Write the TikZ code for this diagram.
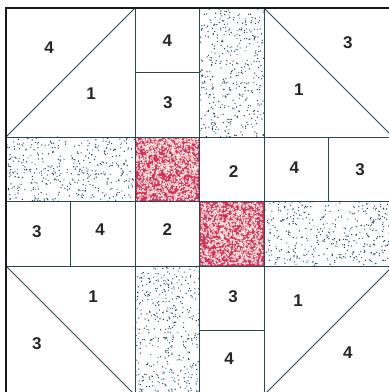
\documentclass[tikz,border=0pt]{standalone}
\usepackage{fontspec}
\setmainfont{Liberation Sans}
\usepackage{tikz}
\usetikzlibrary{positioning}

\definecolor{seam}{RGB}{40,72,78}
\definecolor{speck}{RGB}{30,62,70}
\definecolor{speckgreen}{RGB}{70,130,130}
\definecolor{patchred}{RGB}{218,48,92}
\definecolor{patchcream}{RGB}{250,232,220}

\begin{document}
\begin{tikzpicture}[
  x=64.5pt, y=-64.5pt,
  seamline/.style={draw=seam, line width=0.9pt},
  border/.style={draw=black!90, line width=2.2pt},
  num/.style={font=\bfseries\fontsize{17}{17}\selectfont, text=black!85, inner sep=0pt},
  dot/.style={fill=#1},
]
  \useasboundingbox (-0.093,-0.124) rectangle (5.922,5.953);
  \pgfmathsetseed{4217}

  % speckled strips
  \foreach \xa/\ya/\w/\h in {3/0/1/2, 0/2/2/1, 4/3/2/1, 2/4/1/2} {
    \foreach \k in {1,...,300}
      \fill[dot=speck] ({\xa+\w*rnd},{\ya+\h*rnd}) circle (0.7pt);
    \foreach \k in {1,...,120}
      \fill[dot=speckgreen] ({\xa+\w*rnd},{\ya+\h*rnd}) circle (0.7pt);
  }

  % red patches
  \foreach \xa/\ya in {2/2, 3/3} {
    \fill[patchred] (\xa,\ya) rectangle ++(1,1);
    \foreach \k in {1,...,1300}
      \fill[dot=patchcream] ({\xa+0.02+0.96*rnd},{\ya+0.02+0.96*rnd}) circle (0.95pt);
  }

  % seams
  \draw[seamline] (0,2) -- (6,2);
  \draw[seamline] (0,3) -- (6,3);
  \draw[seamline] (0,4) -- (6,4);
  \draw[seamline] (2,0) -- (2,6);
  \draw[seamline] (3,0) -- (3,6);
  \draw[seamline] (4,0) -- (4,6);
  \draw[seamline] (1,3) -- (1,4);
  \draw[seamline] (5,2) -- (5,3);
  \draw[seamline] (2,1) -- (3,1);
  \draw[seamline] (3,5) -- (4,5);

  % half-square triangles
  \draw[seamline] (0,2) -- (2,0);
  \draw[seamline] (4,0) -- (6,2);
  \draw[seamline] (0,4) -- (2,6);
  \draw[seamline] (4,6) -- (6,4);

  \draw[border] (0,0) rectangle (6,6);

  % numbers
  \node[num] (tlOuter) at (0.67,0.62) {4};
  \node[num] (tlInner) at (1.32,1.33) {1};
  \node[num] (colTop)  at (2.50,0.50) {4};
  \node[num] (colMid)  at (2.51,1.47) {3};
  \node[num] (trOuter) at (5.30,0.54) {3};
  \node[num] (trInner) at (4.54,1.26) {1};
  \node[num] (rowA)    at (3.53,2.54) {2};
  \node[num] (rowB)    at (4.47,2.48) {4};
  \node[num] (rowC)    at (5.49,2.51) {3};
  \node[num] (rowD)    at (0.48,3.46) {3};
  \node[num] (rowE)    at (1.46,3.44) {4};
  \node[num] (rowF)    at (2.50,3.43) {2};
  \node[num] (blInner) at (1.35,4.47) {1};
  \node[num] (blOuter) at (0.48,5.21) {3};
  \node[num] (colLow)  at (3.52,4.47) {3};
  \node[num] (colBot)  at (3.46,5.44) {4};
  \node[num] (brInner) at (4.53,4.54) {1};
  \node[num] (brOuter) at (5.30,5.35) {4};
\end{tikzpicture}
\end{document}
